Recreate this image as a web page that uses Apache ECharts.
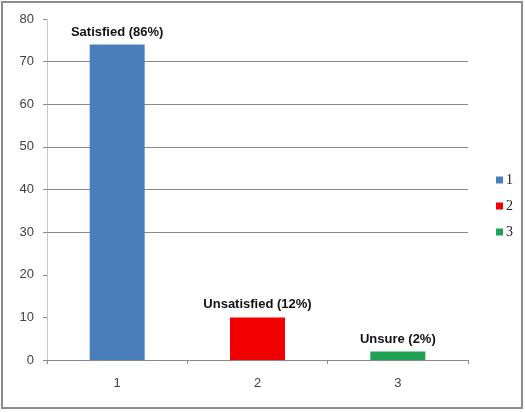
<!DOCTYPE html>
<html>
<head>
<meta charset="utf-8">
<script src="https://cdn.jsdelivr.net/npm/echarts@6/dist/echarts.min.js"></script>
<style>
html,body{margin:0;padding:0;background:#fff;}
#c{width:525px;height:412px;}
</style>
</head>
<body>
<div id="c"></div>
<script>
const categories = ['1', '2', '3'];
const values = [74, 10, 2];
const labelTexts = ['Satisfied (86%)', 'Unsatisfied (12%)', 'Unsure (2%)'];
const seriesNames = ['1', '2', '3'];
const colors = ['#4a7ebb', '#f00000', '#1ea152'];
const gridValues = [30, 40, 50, 60, 70];

const chart = echarts.init(document.getElementById('c'));

const series = values.map((v, i) => {
  const data = categories.map((c, j) => (j === i ? v : '-'));
  const s = {
    name: seriesNames[i],
    type: 'bar',
    stack: 'total',
    barWidth: 55,
    data: data,
    itemStyle: { color: colors[i] },
    label: {
      show: true,
      position: 'top',
      distance: 6,
      formatter: () => labelTexts[i],
      fontFamily: 'Liberation Sans, Arial, sans-serif',
      fontWeight: 'bold',
      fontSize: 13,
      color: '#111'
    }
  };
  if (i === 0) {
    s.markLine = {
      silent: true,
      symbol: ['none', 'none'],
      z: 1,
      label: { show: false },
      lineStyle: { color: '#8a8a8a', width: 1, type: 'solid' },
      data: gridValues.map(g => ({ yAxis: g }))
    };
  }
  return s;
});

chart.setOption({
  animation: false,
  backgroundColor: '#fff',
  graphic: [{
    type: 'rect',
    shape: { x: 2, y: 2, width: 520, height: 406 },
    style: { fill: 'none', stroke: '#8c8c8c', lineWidth: 2 },
    silent: true
  }],
  grid: { left: 47, right: 57, top: 19, bottom: 52 },
  legend: {
    orient: 'vertical',
    left: 491,
    top: 168,
    icon: 'rect',
    itemWidth: 7,
    itemHeight: 7,
    itemGap: 12,
    textStyle: { fontFamily: 'Liberation Serif, Times New Roman, serif', fontSize: 14, color: '#222', padding: [0, 0, 0, -2] },
    data: seriesNames
  },
  xAxis: {
    type: 'category',
    data: categories,
    axisLine: { show: true, lineStyle: { color: '#8a8a8a', width: 1 } },
    axisTick: { show: true, alignWithLabel: false, length: 4, lineStyle: { color: '#8a8a8a' } },
    axisLabel: { fontFamily: 'Liberation Sans, Arial, sans-serif', fontSize: 13, color: '#404040', margin: 17 }
  },
  yAxis: {
    type: 'value',
    min: 0,
    max: 80,
    interval: 10,
    axisLine: { show: true, lineStyle: { color: '#c8c8c8', width: 1 } },
    axisTick: { show: true, length: 4, lineStyle: { color: '#8a8a8a' } },
    splitLine: { show: false },
    axisLabel: { fontFamily: 'Liberation Sans, Arial, sans-serif', fontSize: 13, color: '#404040', margin: 13 }
  },
  series: series
});
</script>
</body>
</html>
